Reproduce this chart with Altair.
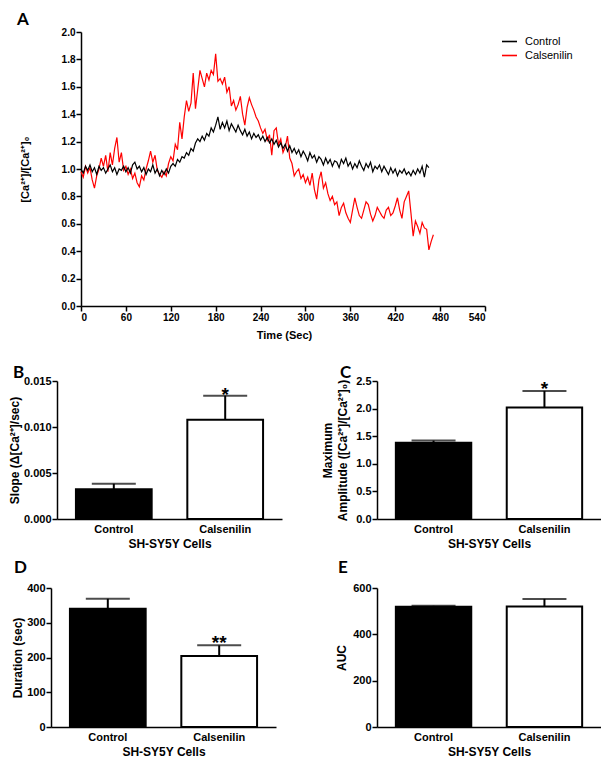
import altair as alt
import pandas as pd

# ---------------- Panel A: Ca2+ traces (values read at 3 s spacing) ----------------
trace_step = 3
control_vals = [
    1.00, 0.97, 1.02, 0.99, 1.03, 0.98, 1.01, 0.96, 1.02, 0.99,
    1.01, 0.97, 1.00, 1.03, 0.98, 1.01, 0.96, 1.00, 0.99, 1.02,
    0.98, 1.01, 0.97, 1.03, 1.05, 1.00, 1.02, 0.98, 1.01, 0.96,
    1.00, 0.98, 1.03, 0.97, 1.00, 0.95, 0.99,
    0.96, 1.00, 0.97, 1.02, 1.04, 1.02, 1.07, 1.05, 1.09, 1.08,
    1.12, 1.10, 1.15, 1.13, 1.19, 1.22, 1.20, 1.24, 1.21, 1.26,
    1.24, 1.30, 1.27, 1.32,
    1.38, 1.29, 1.34, 1.30, 1.35, 1.28, 1.33, 1.30, 1.27, 1.32,
    1.28, 1.25, 1.29, 1.24, 1.27, 1.22, 1.26, 1.23, 1.25, 1.21,
    1.24, 1.20, 1.23, 1.19, 1.22, 1.18, 1.21, 1.16, 1.19, 1.15,
    1.18, 1.13, 1.17, 1.12, 1.15, 1.11, 1.14, 1.09, 1.13, 1.10,
    1.06, 1.12, 1.08, 1.10, 1.05, 1.09, 1.07, 1.03, 1.08, 1.04,
    1.07, 1.02, 1.06, 1.05, 1.01, 1.07, 1.04, 1.08, 1.02, 1.05,
    1.00, 1.04, 1.01, 1.06, 1.02, 0.99, 1.04, 1.01, 1.05, 0.98,
    1.02, 1.00, 1.03, 0.98, 1.02, 0.99, 0.96, 1.01, 0.97, 1.00,
    0.95, 0.99, 0.97, 1.00, 0.96, 0.98, 0.95, 0.99, 0.96, 1.00,
    0.97, 1.02, 0.94, 1.03, 1.01,
]
calsenilin_vals = [
    0.98, 0.94, 1.02, 0.97, 1.01, 0.92, 0.86, 0.95, 1.00, 1.08,
    1.02, 1.10, 0.98, 1.12, 1.03, 1.15, 1.23, 1.05, 1.12, 0.99,
    1.02, 0.96, 1.00, 0.93, 0.97, 0.90, 0.87, 0.95, 0.92, 1.00,
    1.06, 1.13, 1.05, 1.10, 0.99, 0.96, 0.94, 0.98, 0.95, 1.04,
    1.09, 1.06, 1.18, 1.14, 1.34, 1.22, 1.38, 1.50, 1.42, 1.48,
    1.70, 1.44, 1.58, 1.72, 1.66, 1.60, 1.70, 1.65, 1.72, 1.69,
    1.84, 1.64, 1.66, 1.62, 1.67, 1.56, 1.60, 1.46, 1.50, 1.43,
    1.47, 1.53, 1.40, 1.32, 1.45, 1.52, 1.47, 1.43, 1.38, 1.35,
    1.30, 1.26, 1.29, 1.21, 1.25, 1.10, 1.28, 1.30, 1.18, 1.22,
    1.12, 1.16, 1.24, 1.08, 1.04, 0.95, 0.98, 1.00, 0.93, 0.96,
    0.90, 0.94, 0.88, 0.97, 0.85, 0.78, 0.92, 0.98, 0.86, 0.90,
    0.82, 0.77, 0.80, 0.74, 0.76, 0.66, 0.72, 0.75, 0.68, 0.64,
    0.61, 0.70, 0.79, 0.72, 0.66, 0.64, 0.70, 0.76, 0.74, 0.67,
    0.62, 0.66, 0.72, 0.69, 0.66, 0.64, 0.70, 0.72, 0.66, 0.68,
    0.73, 0.79, 0.70, 0.64, 0.76, 0.80, 0.84, 0.68, 0.51, 0.62,
    0.58, 0.53, 0.61, 0.57, 0.56, 0.41, 0.47, 0.52,
]
series_names = ["Control", "Calsenilin"]
series_colors = ["#000000", "#ff0000"]
time_ticks = [0, 60, 120, 180, 240, 300, 360, 420, 480, 540]
ratio_ticks = [0.0, 0.2, 0.4, 0.6, 0.8, 1.0, 1.2, 1.4, 1.6, 1.8, 2.0]

# ---------------- Panels B-E: bar summaries ----------------
groups = ["Control", "Calsenilin"]
slope_mean = [0.00323, 0.0108]
slope_sem = [0.0006, 0.0026]
slope_sig = ["", "*"]
amp_mean = [1.38, 2.02]
amp_sem = [0.04, 0.30]
amp_sig = ["", "*"]
dur_mean = [340, 204]
dur_sem = [29, 31]
dur_sig = ["", "**"]
auc_mean = [519, 520]
auc_sem = [4, 33]
auc_sig = ["", ""]

FONT = "Liberation Sans"
LETTER_FONT = "Lato"

rows = []
for name, vals in [("Control", control_vals), ("Calsenilin", calsenilin_vals)]:
    for i, v in enumerate(vals):
        rows.append({"time": i * trace_step, "ratio": v, "series": name})
dfA = pd.DataFrame(rows)

colorA = alt.Color(
    "series:N",
    scale=alt.Scale(domain=series_names, range=series_colors),
    legend=alt.Legend(
        title=None, orient="none", legendX=450, legendY=1, symbolType="stroke",
        symbolSize=225, symbolStrokeWidth=1.6, labelFont=FONT, labelFontSize=11,
        labelColor="black", labelOffset=7, rowPadding=-2, padding=0,
    ),
)
xA = alt.X(
    "time:Q",
    scale=alt.Scale(domain=[0, 540], range=[30, 434], nice=False, zero=False),
    axis=alt.Axis(values=time_ticks, format="d", title="Time (Sec)", labelFontSize=10,
                  titleFontSize=11, labelPadding=1, titlePadding=7, titleX=233),
)
yA = alt.Y(
    "ratio:Q",
    scale=alt.Scale(domain=[0, 2], nice=False),
    axis=alt.Axis(values=ratio_ticks, format=".1f", title="[Ca²⁺]/[Ca²⁺]₀", labelFontSize=10,
                  titleFontSize=11, offset=-30, labelPadding=1, titlePadding=31),
)
baseA = alt.Chart(dfA).mark_line(strokeWidth=1.2)
redA = baseA.transform_filter(alt.datum.series == "Calsenilin").encode(x=xA, y=yA, color=colorA)
blackA = baseA.transform_filter(alt.datum.series == "Control").encode(x=xA, y=yA, color=colorA)
# layout width equals the bar panels' width; the time scale range reaches past it
chartA = alt.layer(redA, blackA).properties(
    width=231, height=274,
    title=alt.TitleParams("A", anchor="start", frame="group", dx=-34, dy=2, font=LETTER_FONT,
                          fontSize=17, fontWeight="bold", color="black", offset=0),
)


def bar_panel(letter, means, sems, sigs, ytitle, ydomain, yticks, yfmt, xrange, width,
              height, yrange, yoffset, star_dy, title_dx, title_dy, title_pad):
    df = pd.DataFrame({"group": groups, "mean": means, "sem": sems, "sig": sigs})
    df["upper"] = df["mean"] + df["sem"]
    x = alt.X(
        "group:N", sort=groups,
        scale=alt.Scale(domain=groups, range=xrange, paddingInner=0.32, paddingOuter=0.17),
        axis=alt.Axis(title="SH-SY5Y Cells", labelAngle=0, ticks=False, labelFontSize=11,
                      titleFontSize=12, labelPadding=4, titlePadding=4),
    )

    def yenc(field):
        return alt.Y(
            field,
            title=ytitle,
            scale=alt.Scale(domain=ydomain, range=yrange, nice=False),
            axis=alt.Axis(values=yticks, format=yfmt, labelFontSize=11, titleFontSize=12,
                          offset=yoffset, labelPadding=1, titlePadding=title_pad,
                          titleLineHeight=15),
        )

    bars = alt.Chart(df).mark_bar(stroke="black", strokeWidth=2).encode(
        x=x, y=yenc("mean:Q"),
        color=alt.condition(alt.datum.group == "Control", alt.value("black"), alt.value("white")),
    )
    rule = alt.Chart(df).mark_rule(color="black", strokeWidth=2).encode(
        x=x, y=yenc("mean:Q"), y2="upper:Q")
    cap = alt.Chart(df).mark_tick(color="black", thickness=2, size=44).encode(
        x=x, y=yenc("upper:Q"))
    star = alt.Chart(df).mark_text(font=FONT, fontSize=19, fontWeight="bold",
                                   baseline="alphabetic", dy=star_dy, color="black").encode(
        x=x, y=yenc("upper:Q"), text="sig:N")
    return alt.layer(bars, rule, cap, star).properties(
        width=width, height=height,
        title=alt.TitleParams(letter, anchor="start", frame="group", dx=title_dx, dy=title_dy,
                              font=LETTER_FONT, fontSize=17, fontWeight="bold", color="black",
                              offset=0),
    )


chartB = bar_panel("B", slope_mean, slope_sem, slope_sig, "Slope (Δ[Ca²⁺]/sec)",
                   [0, 0.015], [0, 0.005, 0.010, 0.015], ".3f", [6, 231], 231, 144, [144, 6],
                   -6, 5, -38, 7, 2)
chartC = bar_panel("C", amp_mean, amp_sem, amp_sig, ["Maximum", "Amplitude ([Ca²⁺]/[Ca²⁺]₀)"],
                   [0, 2.5], [0, 0.5, 1.0, 1.5, 2.0, 2.5], ".1f", [0, 224], 224, 144, [144, 6],
                   0, 4, -37, 7, 6)
chartD = bar_panel("D", dur_mean, dur_sem, dur_sig, "Duration (sec)",
                   [0, 400], [0, 100, 200, 300, 400], "d", [0, 225], 231, 139, [139, 0],
                   0, 4, -37, -5, 2)
chartE = bar_panel("E", auc_mean, auc_sem, auc_sig, "AUC",
                   [0, 600], [0, 200, 400, 600], "d", [0, 224], 224, 139, [139, 0],
                   0, 4, -39, -5, 4)

spacer = alt.Chart(pd.DataFrame({"s": [0]})).mark_point(opacity=0).properties(width=1, height=1)

chart = alt.concat(
    chartA, spacer, chartB, chartC, chartD, chartE,
    columns=2,
    spacing={"row": 69, "column": 95},
    bounds="flush",
    align="each",
).properties(
    padding={"top": 3, "left": 0, "right": 0, "bottom": 0}, background="white",
).configure_view(
    stroke=None,
).configure_axis(
    domainColor="black", domainWidth=1.5, tickColor="black", tickWidth=1.5, tickSize=5,
    labelColor="black", titleColor="black", labelFont=FONT, titleFont=FONT,
    labelFontWeight="bold", titleFontWeight="bold", grid=False,
)

chart.save("out.html", embed_options={"renderer": "svg", "actions": False})
